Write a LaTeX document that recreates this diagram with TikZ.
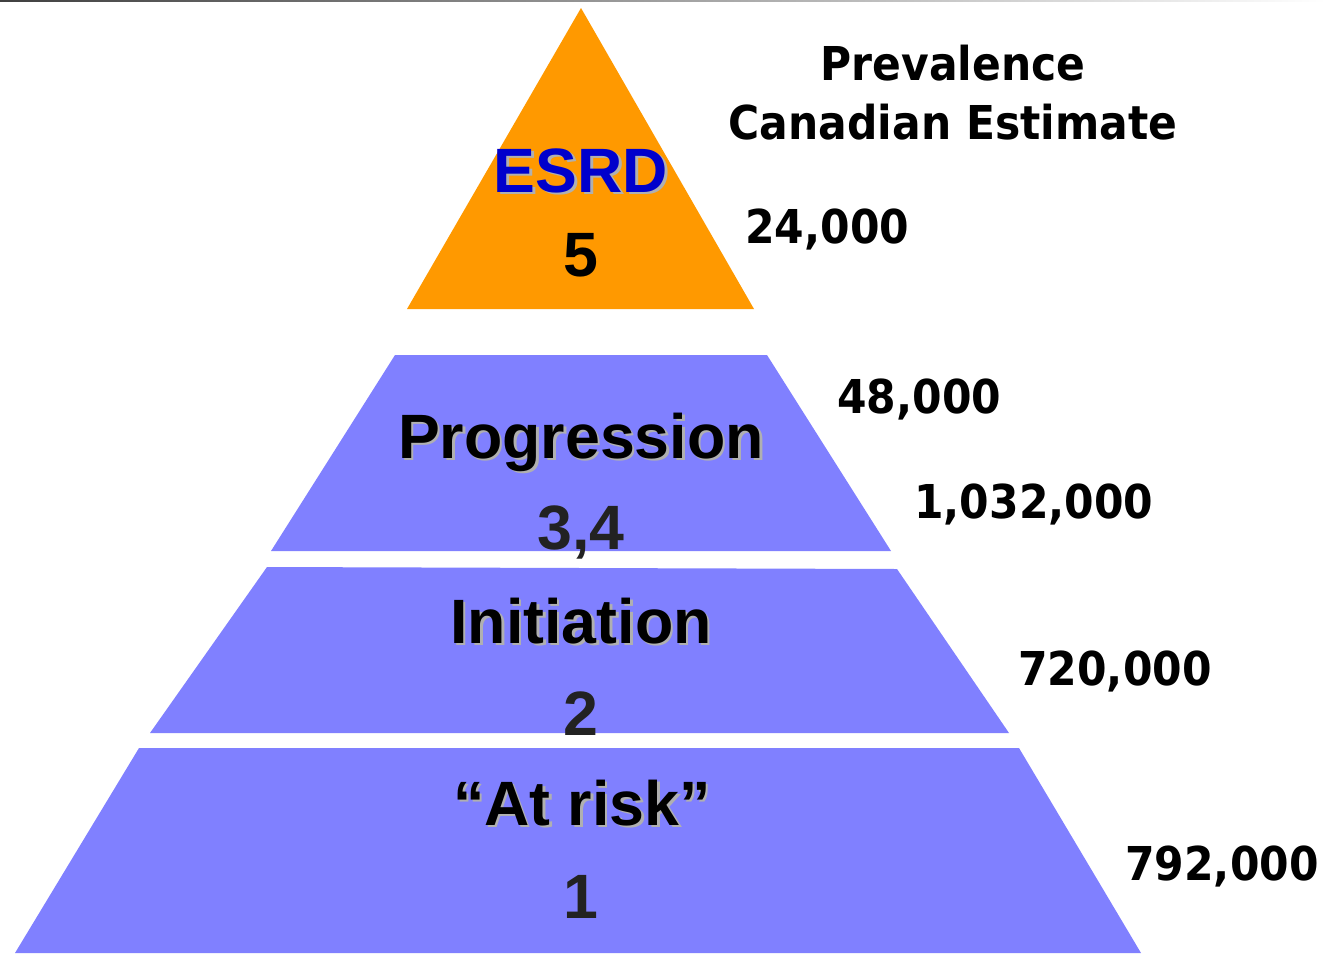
\documentclass[tikz,border=0pt]{standalone}
\usepackage{fontspec}
\setmainfont{Liberation Sans}
\newfontfamily\numfont[FakeStretch=0.91]{DejaVu Sans}
\definecolor{orng}{RGB}{255,153,0}
\definecolor{lav}{RGB}{128,128,255}
\definecolor{esrdblue}{RGB}{0,0,204}
\definecolor{shad}{RGB}{176,176,176}
\definecolor{dgray}{RGB}{34,34,34}
\tikzset{
  lab/.style={anchor=base, inner sep=0pt, font=\fontsize{47}{50}\selectfont\bfseries},
  shd/.style={lab, text=shad},
  num/.style={anchor=base west, inner sep=0pt, font=\numfont\fontsize{35}{40}\selectfont\bfseries},
  hdr/.style={anchor=base, inner sep=0pt, font=\numfont\fontsize{35}{40}\selectfont\bfseries},
}
\begin{document}
\begin{tikzpicture}[x=0.75pt, y=-0.75pt]
\useasboundingbox (0,0) rectangle (1326,953);
% top gradient rule
\shade[left color=black!75, right color=white] (0,0) rectangle (1326,1.6);
% pyramid tiers
\fill[orng] (581,8) -- (754,309) -- (407,309) -- cycle;
\fill[lav] (395,355) -- (767,355) -- (891,551) -- (271,551) -- cycle;
\fill[lav] (267,567) -- (897,569) -- (1009,733) -- (150,733) -- cycle;
\fill[lav] (139,748) -- (1019,748) -- (1141,953) -- (15,953) -- cycle;
% tier labels
\node[shd] (esrdS) at (583.5,194.5) {ESRD};
\node[lab, text=esrdblue] (esrd) at (581,192) {ESRD};
\node[lab, text=black] (five) at (581,276) {5};
\node[shd] (progS) at (583.5,460.5) {Progression};
\node[lab, text=black] (prog) at (581,458) {Progression};
\node[lab, text=dgray] (threefour) at (581,549) {3,4};
\node[shd] (initS) at (583.5,645.5) {Initiation};
\node[lab, text=black] (init) at (581,643) {Initiation};
\node[lab, text=dgray] (two) at (581,735) {2};
\node[shd] (riskS) at (584.5,827.5) {``At risk''};
\node[lab, text=black] (risk) at (582,825) {``At risk''};
\node[lab, text=dgray] (one) at (581,918) {1};
% header
\node[hdr] (prev) at (953,80) {Prevalence};
\node[hdr] (canest) at (953,139) {Canadian Estimate};
% numbers
\node[num] (n24) at (745,243) {24,000};
\node[num] (n48) at (837,413) {48,000};
\node[num] (n1032) at (914,518) {1,032,000};
\node[num] (n720) at (1018,685) {720,000};
\node[num] (n792) at (1125,880) {792,000};
\end{tikzpicture}
\end{document}
